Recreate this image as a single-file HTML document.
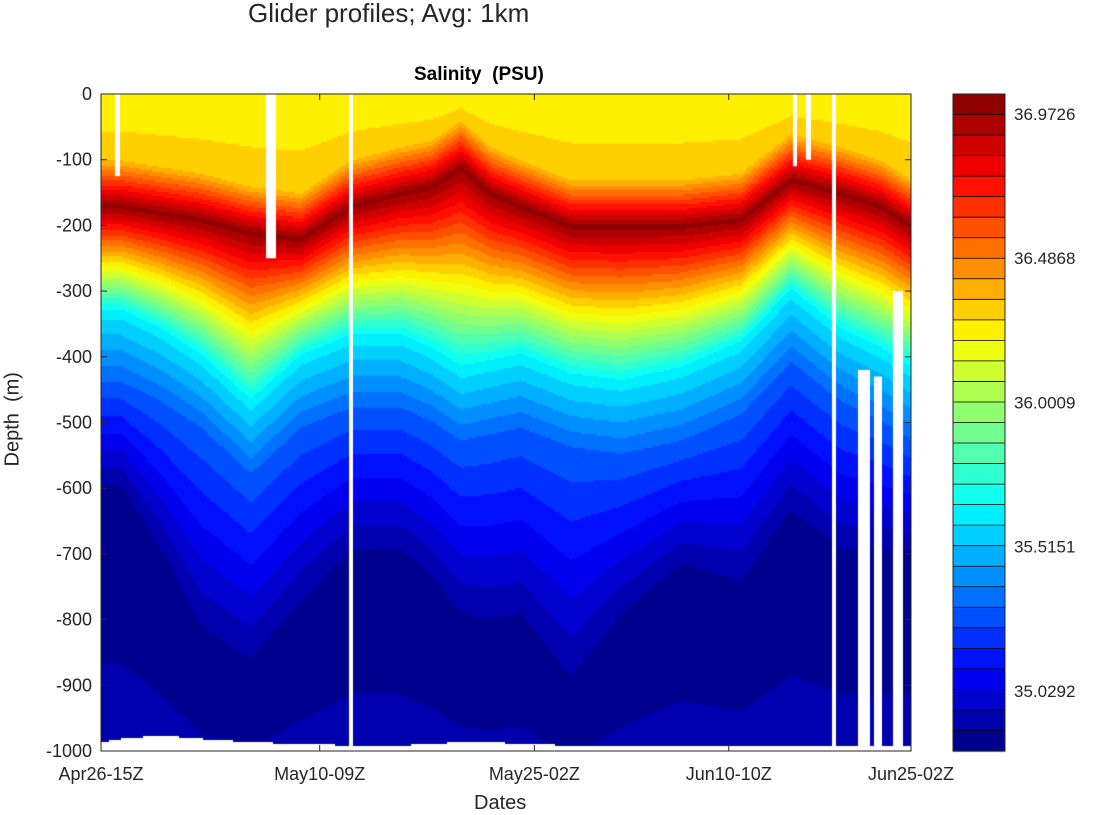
<!DOCTYPE html>
<html><head><meta charset="utf-8"><style>
body{margin:0;background:#fff;width:1099px;height:814px;overflow:hidden;font-family:"Liberation Sans",sans-serif;}
.t{position:absolute;color:#262626;white-space:nowrap;}
</style></head><body>
<div class="t" style="left:248px;top:-2px;font-size:26px;">Glider profiles; Avg: 1km</div>
<div class="t" style="left:414px;top:64px;font-size:19px;font-weight:bold;color:#000">Salinity&nbsp; (PSU)</div>
<div class="t" style="left:-32px;top:410px;font-size:20px;transform:rotate(-90deg);width:90px;text-align:center">Depth&nbsp; (m)</div>
<div class="t" style="left:474px;top:792px;font-size:20px;">Dates</div>
<canvas id="c" width="1099" height="814" style="position:absolute;left:0;top:0"></canvas>
<svg id="s" width="1099" height="814" style="position:absolute;left:0;top:0"></svg>
<script>
// data
const colX = [101,120,160,200,250,300,350,400,430,460,490,520,570,620,680,740,790,840,880,911];
const coreDepth = [170,170,180,190,210,220,170,150,140,110,150,170,200,200,200,190,130,150,170,200];
const cyanDepth = [330,330,360,400,470,400,370,370,390,420,410,400,430,440,420,380,300,360,390,420];
const navyDepth = [600,600,700,820,870,780,700,700,740,800,810,800,900,800,720,750,640,700,700,700];
const bottomDepth = [985,980,975,980,985,988,990,990,988,985,985,988,990,990,990,990,990,990,990,990];
const whiteGaps = [[115,5,0,125],[266,10,0,250],[349,4,0,1000],[832,4,0,1000],[793,4,0,110],[806,5,0,100],[858,12,420,1000],[874,8,430,1000],[893,10,300,1000]];
const cbTicks = [36.9726,36.4868,36.0009,35.5151,35.0292];
const vmin=34.827, vmax=37.04, nLev=32;
const X0=101,X1=911,Y0=94,Y1=751;
const yOf=d=>Y0+d*(Y1-Y0)/1000;
function jet(t){const c=x=>Math.max(0,Math.min(1,x));
 return [c(1.5-Math.abs(4*t-3)),c(1.5-Math.abs(4*t-2)),c(1.5-Math.abs(4*t-1))].map(v=>Math.round(v*255));}
function lerpArr(arr,x){for(let i=0;i<colX.length-1;i++){if(x<=colX[i+1]){const f=(x-colX[i])/(colX[i+1]-colX[i]);return arr[i]+(arr[i+1]-arr[i])*f;}}return arr[arr.length-1];}
function sal(x,d){const co=lerpArr(coreDepth,x),cy=lerpArr(cyanDepth,x),nv=lerpArr(navyDepth,x);
 const pts=[[0,36.25],[co-75,36.3],[co,37.0],[cy,35.62],[cy+110,35.3],[nv,34.88],[Math.min(985,nv+120),34.86],[1000,34.93]];
 for(let i=0;i<pts.length-1;i++){if(d<=pts[i+1][0]){const f=(d-pts[i][0])/Math.max(1,pts[i+1][0]-pts[i][0]);return pts[i][1]+(pts[i+1][1]-pts[i][1])*f;}}return 34.93;}
const ctx=document.getElementById('c').getContext('2d');
for(let x=X0;x<X1;x+=2){const bd=lerpArr(bottomDepth,x);
 for(let y=Y0;y<Y1;y+=2){const d=(y-Y0)*1000/(Y1-Y0);if(d>bd)continue;
  let v=sal(x,d);let k=Math.floor((v-vmin)/(vmax-vmin)*nLev);k=Math.max(0,Math.min(nLev-1,k));
  const c=jet((k+0.5)/nLev);ctx.fillStyle=`rgb(${c})`;ctx.fillRect(x,y,2,2);}}
ctx.fillStyle='#fff';whiteGaps.forEach(g=>ctx.fillRect(g[0],yOf(g[2]),g[1],yOf(g[3])-yOf(g[2])));
const CBX=953,CBW=52;const segH=(Y1-Y0)/nLev;
for(let k=0;k<nLev;k++){const c=jet((k+0.5)/nLev);ctx.fillStyle=`rgb(${c})`;ctx.fillRect(CBX,Y1-(k+1)*segH,CBW,segH+0.5);}
const s=document.getElementById('s');const NS='http://www.w3.org/2000/svg';
function el(tag,a,txt){const e=document.createElementNS(NS,tag);for(const k in a)e.setAttribute(k,a[k]);if(txt!==undefined)e.textContent=txt;s.appendChild(e);return e;}
for(let k=1;k<nLev;k++){const l=el('line',{x1:CBX,x2:CBX+CBW,y1:Y1-k*segH,y2:Y1-k*segH,stroke:'#000','stroke-width':0.8});
 }
const cb=el('rect',{x:CBX,y:Y0,width:CBW,height:Y1-Y0,fill:'none',stroke:'#262626'});

cbTicks.forEach(v=>{const y=Y1-(v-vmin)/(vmax-vmin)*(Y1-Y0);
 const t=el('text',{x:1014,y:y+6,'font-size':17,fill:'#262626','font-family':'Liberation Sans'},v.toFixed(4));
 });
const yTicks=[0,-100,-200,-300,-400,-500,-600,-700,-800,-900,-1000];
yTicks.forEach(v=>{const y=yOf(-v);
 const t=el('text',{x:92,y:y+6,'font-size':18,fill:'#262626','text-anchor':'end','font-family':'Liberation Sans'},String(v));
 
 el('line',{x1:X0,x2:X0+6,y1:y,y2:y,stroke:'#262626'});el('line',{x1:X1,x2:X1-6,y1:y,y2:y,stroke:'#262626'});});
const xLabels=['Apr26-15Z','May10-09Z','May25-02Z','Jun10-10Z','Jun25-02Z'];
const xPos=[0,0.27,0.535,0.775,1];
xLabels.forEach((l,i)=>{const x=X0+xPos[i]*(X1-X0);
 const t=el('text',{x:x,y:780,'font-size':18,fill:'#262626','text-anchor':'middle','font-family':'Liberation Sans'},l);
 
 el('line',{x1:x,x2:x,y1:Y1,y2:Y1-6,stroke:'#262626'});el('line',{x1:x,x2:x,y1:Y0,y2:Y0+6,stroke:'#262626'});});
const ax=el('rect',{x:X0,y:Y0,width:X1-X0,height:Y1-Y0,fill:'none',stroke:'#262626'});

</script>
</body></html>
